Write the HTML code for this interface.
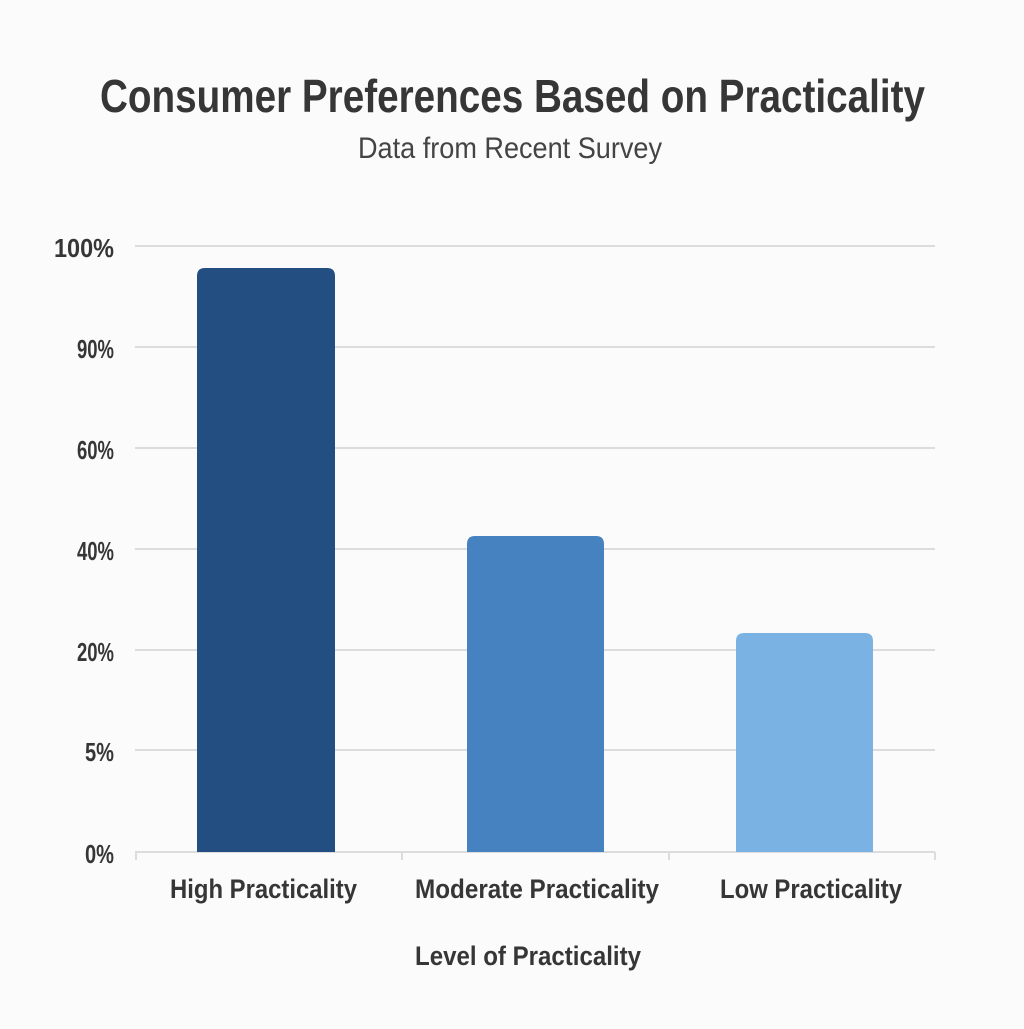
<!DOCTYPE html>
<html><head><style>html,body{margin:0;padding:0;background:#fbfbfc}</style></head><body>
<svg width="1024" height="1024" xmlns="http://www.w3.org/2000/svg" font-family="'Liberation Sans Narrow','Liberation Sans',sans-serif">
<rect width="1024" height="1024" fill="#fbfbfc"/>
<text x="100" y="112" font-size="46" font-weight="bold" fill="#363636" textLength="825" lengthAdjust="spacingAndGlyphs">Consumer Preferences Based on Practicality</text>
<text x="358" y="158" font-size="30" fill="#444" textLength="304" lengthAdjust="spacingAndGlyphs">Data from Recent Survey</text>
<g stroke="#dcdcdc" stroke-width="2">
<line x1="135" y1="246" x2="935" y2="246"/>
<line x1="135" y1="347" x2="935" y2="347"/>
<line x1="135" y1="448" x2="935" y2="448"/>
<line x1="135" y1="549" x2="935" y2="549"/>
<line x1="135" y1="650" x2="935" y2="650"/>
<line x1="135" y1="750" x2="935" y2="750"/>
<line x1="135" y1="852" x2="935" y2="852"/>
<line x1="136" y1="852" x2="136" y2="860"/>
<line x1="402" y1="852" x2="402" y2="860"/>
<line x1="669" y1="852" x2="669" y2="860"/>
<line x1="935" y1="852" x2="935" y2="860"/>
</g>
<g font-size="26" font-weight="bold" fill="#363636" text-anchor="end">
<text x="114" y="257" textLength="60" lengthAdjust="spacingAndGlyphs">100%</text>
<text x="114" y="358" textLength="37" lengthAdjust="spacingAndGlyphs">90%</text>
<text x="114" y="459" textLength="37" lengthAdjust="spacingAndGlyphs">60%</text>
<text x="114" y="560" textLength="37" lengthAdjust="spacingAndGlyphs">40%</text>
<text x="114" y="661" textLength="37" lengthAdjust="spacingAndGlyphs">20%</text>
<text x="114" y="761" textLength="29" lengthAdjust="spacingAndGlyphs">5%</text>
<text x="114" y="863" textLength="29" lengthAdjust="spacingAndGlyphs">0%</text>
</g>
<path d="M197 852 V276 Q197 268 205 268 H327 Q335 268 335 276 V852 Z" fill="#234e82"/>
<path d="M467 852 V544 Q467 536 475 536 H596 Q604 536 604 544 V852 Z" fill="#4682bf"/>
<path d="M736 852 V641 Q736 633 744 633 H865 Q873 633 873 641 V852 Z" fill="#7ab3e3"/>
<g font-size="27" font-weight="bold" fill="#363636">
<text x="170" y="898" textLength="187" lengthAdjust="spacingAndGlyphs">High Practicality</text>
<text x="415" y="898" textLength="244" lengthAdjust="spacingAndGlyphs">Moderate Practicality</text>
<text x="720" y="898" textLength="182" lengthAdjust="spacingAndGlyphs">Low Practicality</text>
<text x="415" y="965" textLength="226" lengthAdjust="spacingAndGlyphs">Level of Practicality</text>
</g>
</svg>
</body></html>
